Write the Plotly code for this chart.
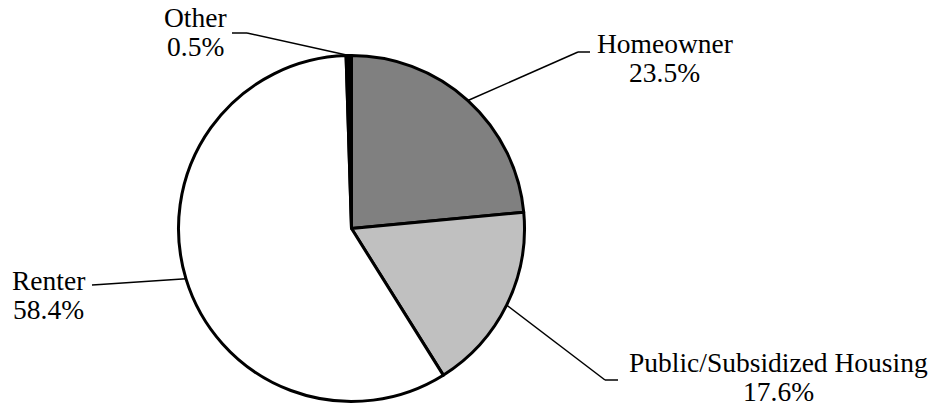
import math
import plotly.graph_objects as go

# ---- data ----
categories = ["Homeowner", "Public/Subsidized Housing", "Renter", "Other"]
shares = [23.5, 17.6, 58.4, 0.5]
pct_labels = ["23.5%", "17.6%", "58.4%", "0.5%"]

# ---- styles / layout ----
colors = ["#808080", "#c0c0c0", "#ffffff", "#000000"]
W, H = 939, 406
CX, CY, R = 351.5, 228.5, 173.0
FONT = "Liberation Serif"
FS = 27.5
LINE_GAP = 29

# label placement (pixels): text centre x, baseline of first line, elbow point, end of horizontal tick
label_pos = {
    "Homeowner": dict(tx=664.5, base=53, elbow=(578, 52), end=(590, 52)),
    "Public/Subsidized Housing": dict(tx=778, base=372, elbow=(605, 380), end=(618, 380)),
    "Renter": dict(tx=48.5, base=290, elbow=(100, 284.5), end=(92, 285)),
    "Other": dict(tx=195, base=27, elbow=(247, 33), end=(232, 33)),
}


def px(x):
    return x / W


def py(y):
    return 1 - y / H


fig = go.Figure(
    go.Pie(
        labels=categories,
        values=shares,
        sort=False,
        direction="clockwise",
        rotation=0,
        textinfo="none",
        hoverinfo="label+percent",
        marker=dict(colors=colors, line=dict(color="#000000", width=3)),
        domain=dict(x=[px(CX - R), px(CX + R)], y=[py(CY + R), py(CY - R)]),
        showlegend=False,
    )
)

total = sum(shares)
cum = 0.0
annotations = []
shapes = []
for cat, val, pct in zip(categories, shares, pct_labels):
    mid = (cum + val / 2) / total * 2 * math.pi
    cum += val
    sx = CX + R * math.sin(mid)
    sy = CY - R * math.cos(mid)
    lp = label_pos[cat]
    ex, ey = lp["elbow"]
    tx, ty = lp["end"]
    shapes.append(dict(type="line", xref="paper", yref="paper",
                       x0=px(sx), y0=py(sy), x1=px(ex), y1=py(ey),
                       line=dict(color="#000000", width=1.5)))
    shapes.append(dict(type="line", xref="paper", yref="paper",
                       x0=px(ex), y0=py(ey), x1=px(tx), y1=py(ty),
                       line=dict(color="#000000", width=1.5)))
    for i, txt in enumerate([cat, pct]):
        base = lp["base"] + i * LINE_GAP
        annotations.append(dict(
            text=txt, xref="paper", yref="paper",
            x=px(lp["tx"]), y=py(base - 0.34 * FS),
            xanchor="center", yanchor="middle", showarrow=False,
            font=dict(family=FONT, size=FS, color="#000000"),
        ))

fig.update_layout(
    width=W, height=H,
    margin=dict(l=0, r=0, t=0, b=0),
    paper_bgcolor="#ffffff",
    plot_bgcolor="#ffffff",
    font=dict(family=FONT),
    annotations=annotations,
    shapes=shapes,
)

fig.write_html(
    "out.html",
    config={"displayModeBar": False},
    post_script="document.body.style.margin='0';document.body.style.padding='0';",
)
